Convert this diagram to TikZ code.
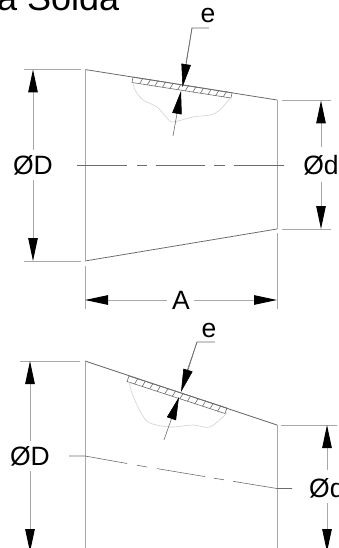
\documentclass[tikz,border=0pt]{standalone}
\usepackage{fontspec}
\setmainfont{Liberation Sans}
\usetikzlibrary{arrows.meta,calc}
\definecolor{wallc}{gray}{0.42}
\definecolor{dimc}{gray}{0.66}
\definecolor{breakc}{gray}{0.82}
\tikzset{
  wall/.style={draw=wallc,line width=0.8pt},
  edge/.style={draw=dimc,line width=0.9pt},
  dimline/.style={draw=dimc,line width=1pt},
  hatchline/.style={draw=wallc,line width=0.6pt},
  brk/.style={draw=breakc,line width=0.6pt},
  tipped/.style={-{Triangle[length=23pt,width=9.5pt,black]}},
  lab/.style={font=\fontsize{26.5}{26.5}\selectfont,inner sep=0pt,text=black},
}
\begin{document}
\begin{tikzpicture}[x=1pt,y=-1pt]
\useasboundingbox (0,0) rectangle (339,548);
\clip (0,0) rectangle (339,548);
\node[anchor=base west,inner sep=0pt,font=\fontsize{36}{36}\selectfont] (title) at (-3,10.5) {a Solda};
% upper drawing
\coordinate (a1) at (85,69.5);\coordinate (a2) at (277,100);
\coordinate (a3) at (277,229);\coordinate (a4) at (85,261);
\draw[wall] (a1)--(a2);
\draw[wall] (a4)--(a3);
\draw[edge] (a1)--(a4);
\draw[edge] (a2)--(a3);
\draw[edge] (24,69.5)--(81,69.5);
\draw[edge] (24,261)--(81,261);
\draw[edge] (85,266)--(85,309);
\draw[edge] (277,233)--(277,309);
\draw[edge] (282,100.5)--(331,100.5);
\draw[edge] (282,229)--(331,229);
\draw[wall,line width=0.6pt] (77,165)--(127,165) (137,165)--(147,165) (156,165)--(205,165) (214,165)--(225,165) (234,165)--(284,165);
% hatch upper
\draw[hatchline] (133,77)--(232,92.7)--(231,98)--(132,82.5)--cycle;
\foreach \i in {1,...,12}{\draw[hatchline] ($(132,82.5)+(\i*7.6,\i*1.2)$)--++(3.4,-5.5);}
\draw[brk] plot[smooth] coordinates {(133,82) (135,90) (143,100) (157,107) (167,118) (173,122) (193,117) (210,115) (220,110) (231,97)};
% thickness e upper
\coordinate (e1) at (192,28);
\node[lab] (e1t) at (208,16) {e};
\draw[wall,line width=0.6pt] (209,28)--(e1)--(186,63);
\draw[tipped,wall,line width=0.6pt] (e1)--(182.5,87);
\draw[tipped,wall,line width=0.6pt] (173,136)--(181,91);
% dims upper
\node[lab] (d1) at (33,165) {ØD};
\node[lab] (d2) at (321,165) {Ød};
\node[lab] (A1) at (181,300) {A};
\coordinate (d1a) at (33,69.5);\coordinate (d1b) at (33,261);
\coordinate (d2a) at (321,100.5);\coordinate (d2b) at (321,229);
\coordinate (A1a) at (85,300);\coordinate (A1b) at (277,300);
\draw[dimline,tipped] (33,150)--(d1a);
\draw[dimline,tipped] (33,180)--(d1b);
\draw[dimline,tipped] (321,147)--(d2a);
\draw[dimline,tipped] (321,182)--(d2b);
\draw[dimline,tipped] (167,300)--(A1a);
\draw[dimline,tipped] (194,300)--(A1b);
% lower drawing
\coordinate (b1) at (85,361);\coordinate (b2) at (277,425);
\draw[wall] (b1)--(b2);
\draw[edge] (b1)--(85,548);
\draw[edge] (b2)--(277,548);
\draw[edge] (20,361)--(80,361);
\draw[edge] (281,425)--(337,425);
\draw[wall,line width=0.6pt] (69,456)--(85,456)--(127,463.5) (137,465.2)--(147,467) (157,468.6)--(205,476.6) (214,478.2)--(224,479.8) (233,481.3)--(277,488.5)--(292,488.5);
% hatch lower
\draw[hatchline] (129,376)--(227,408)--(225,413.5)--(127,381.5)--cycle;
\foreach \i in {1,...,12}{\draw[hatchline] ($(127,381.5)+(\i*7.55,\i*2.46)$)--++(3.4,-5.4);}
\draw[brk] plot[smooth] coordinates {(129,382) (132,393) (138,407) (148,422) (170,427) (193,425) (210,427) (227,413)};
% thickness e lower
\coordinate (e2) at (197,342);
\node[lab] (e2t) at (209,330) {e};
\draw[wall,line width=0.6pt] (215,342)--(e2)--(187,371);
\draw[tipped,wall,line width=0.6pt] (e2)--(181,392);
\draw[tipped,wall,line width=0.6pt] (164,440)--(179,397);
% dims lower
\node[lab] (d3) at (30,456.5) {ØD};
\node[anchor=west,lab] (d4) at (309,488) {Ød};
\coordinate (d3a) at (30,361);\coordinate (d3b) at (30,552);
\coordinate (d4a) at (327,425);\coordinate (d4b) at (327,552);
\draw[dimline,tipped] (30,441)--(d3a);
\draw[dimline,tipped] (30,471)--(d3b);
\draw[dimline,tipped] (327,470)--(d4a);
\draw[dimline,tipped] (327,503)--(d4b);
\end{tikzpicture}
\end{document}
